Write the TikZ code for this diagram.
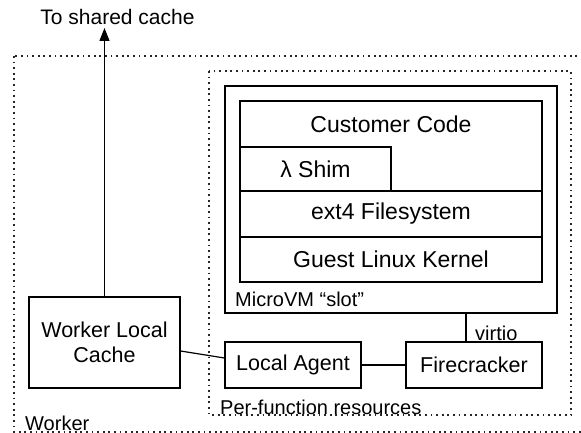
\documentclass[tikz,border=0pt]{standalone}
\usepackage{fontspec}
\setmainfont{Liberation Sans}
\usetikzlibrary{arrows.meta,positioning,calc}
\tikzset{
  solidbox/.style={draw=black,line width=1.2pt,inner sep=0pt,rectangle,align=center},
  boxtxt/.style={font=\fontsize{21.5}{25}\selectfont},
  stacktxt/.style={font=\fontsize{23}{27}\selectfont},
  lbl/.style={font=\fontsize{20}{24}\selectfont,inner sep=0pt},
  dotbox/.style={draw=black!85,line width=1.5pt,dash pattern=on 1.8pt off 3.8pt},
  conn/.style={draw=black,line width=1.2pt},
}
\begin{document}
\begin{tikzpicture}[x=1pt,y=-1pt]
\useasboundingbox (0,0) rectangle (581,433);
\clip (0,0) rectangle (581,433);
% dotted frames
\draw[dotbox] (14,56) rectangle (600,432);
\draw[dotbox] (209,71) rectangle (571,415);
% microvm
\node[solidbox,minimum width=332pt,minimum height=227pt] (microvm) at (391,199.5) {};
\node[solidbox,minimum width=302pt,minimum height=90pt] (cust) at (391,146) {};
\node[stacktxt,inner sep=0pt] (custtxt) at (391,124) {Customer Code};
\node[solidbox,stacktxt,minimum width=151pt,minimum height=44pt] (shim) at (315.5,169) {λ Shim};
\node[solidbox,stacktxt,minimum width=302pt,minimum height=46pt] (ext4) at (391,214) {ext4 Filesystem};
\node[solidbox,stacktxt,minimum width=302pt,minimum height=45pt] (kernel) at (391,259.5) {Guest Linux Kernel};
\node[lbl,anchor=west] (slot) at (235,299) {MicroVM “slot”};
% bottom boxes
\node[solidbox,boxtxt,minimum width=151pt,minimum height=91pt] (wlc) at (104.5,342.5) {Worker Local\\Cache};
\node[solidbox,boxtxt,minimum width=136pt,minimum height=46pt] (agent) at (293,365) {Local Agent};
\node[solidbox,boxtxt,minimum width=136pt,minimum height=46pt] (fire) at (474,365) {Firecracker};
% labels
\node[lbl,anchor=west] (virtio) at (475,333) {virtio};
\node[lbl,anchor=west] (perfn) at (220,407) {Per-function resources};
\node[lbl,anchor=west] (worker) at (25,423) {Worker};
\node[font=\fontsize{21}{25}\selectfont,inner sep=0pt] (sharedtxt) at (117.5,17) {To shared cache};
\coordinate (shared) at (104.5,28);
% connectors
\draw[conn,-{Triangle[length=13pt,width=10pt]}] (wlc.north) -- (shared);
\draw[conn] ([yshift=-8.5pt]wlc.east) -- ([yshift=7pt]agent.west);
\draw[conn] (agent) -- (fire);
\draw[conn] ([xshift=-8pt]fire.north) -- ([xshift=-8pt]fire.north |- microvm.south);
\end{tikzpicture}
\end{document}
